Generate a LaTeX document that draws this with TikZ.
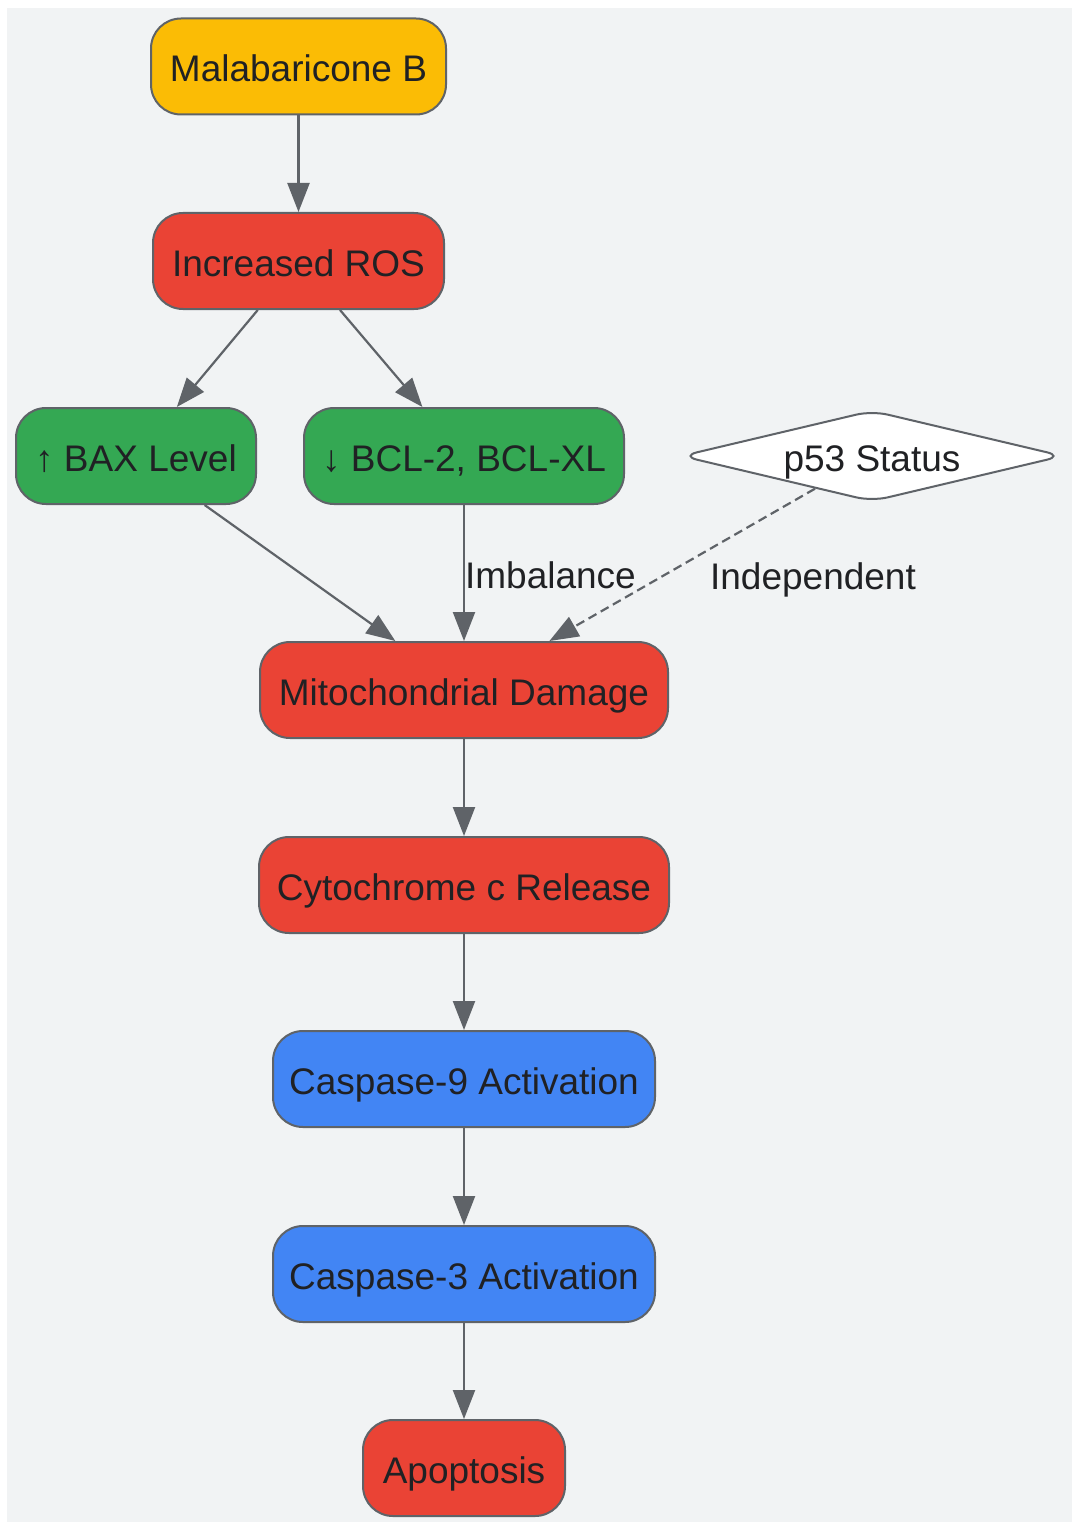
\documentclass[tikz,border=0pt]{standalone}
\usepackage{fontspec}
\setmainfont{Liberation Sans}
\usetikzlibrary{arrows.meta,shapes.geometric}
\definecolor{bgc}{HTML}{F1F3F4}
\definecolor{stk}{HTML}{5F6368}
\definecolor{txt}{HTML}{202124}
\definecolor{cyel}{HTML}{FBBC05}
\definecolor{cred}{HTML}{EA4335}
\definecolor{cgrn}{HTML}{34A853}
\definecolor{cblu}{HTML}{4285F4}
\tikzset{
  box/.style={draw=stk, line width=2pt, rounded corners=30pt, minimum height=96pt,
    inner sep=0pt, text=txt, font=\fontsize{37}{44}\selectfont,
    text height=31pt, text depth=0pt},
  yel/.style={box, fill=cyel},
  red/.style={box, fill=cred},
  grn/.style={box, fill=cgrn},
  blu/.style={box, fill=cblu},
  dia/.style={draw=stk, line width=2pt, fill=white, shape=diamond, aspect=4.2,
    minimum width=382pt, minimum height=91pt, inner sep=0pt, rounded corners=16pt,
    text=txt, font=\fontsize{37}{44}\selectfont, text height=31pt, text depth=0pt},
  conn/.style={draw=stk, line width=2.2pt, -{Triangle[length=29pt,width=22pt]}},
  elabel/.style={text=txt, font=\fontsize{37}{44}\selectfont, inner sep=0pt,
    text height=31pt, text depth=0pt}
}
\begin{document}
\begin{tikzpicture}[x=1pt,y=-1pt]
\useasboundingbox (0,0) rectangle (1072,1522);
\fill[bgc] (7,8) rectangle (1072,1522);
\node[yel, minimum width=295pt] (mal) at (298.5,66.5) {Malabaricone B};
\node[red, minimum width=291pt] (ros) at (298.5,261) {Increased ROS};
\node[grn, minimum width=240pt] (bax) at (136,456) {↑ BAX Level};
\node[grn, minimum width=320pt] (bcl) at (464,456) {↓ BCL-2, BCL-XL};
\node[dia] (p53) at (872,456) {p53 Status};
\node[red, minimum width=408pt] (mito) at (464,690) {Mitochondrial Damage};
\node[red, minimum width=410pt] (cyt) at (464,885) {Cytochrome c Release};
\node[blu, minimum width=382pt] (c9) at (464,1079) {Caspase-9 Activation};
\node[blu, minimum width=382pt] (c3) at (464,1274) {Caspase-3 Activation};
\node[red, minimum width=202pt] (apo) at (464,1468) {Apoptosis};
\draw[conn] (mal) -- (ros);
\draw[conn] (ros) -- (bax);
\draw[conn] (ros) -- (bcl);
\draw[conn] (bax) -- (mito);
\draw[conn] (bcl) -- node[elabel, midway, anchor=west] (limb) {Imbalance} (mito);
\draw[conn, dash pattern=on 9pt off 5pt] (p53) -- (mito);
\node[elabel] (lind) at (813,574) {Independent};
\draw[conn] (mito) -- (cyt);
\draw[conn] (cyt) -- (c9);
\draw[conn] (c9) -- (c3);
\draw[conn] (c3) -- (apo);
\end{tikzpicture}
\end{document}
